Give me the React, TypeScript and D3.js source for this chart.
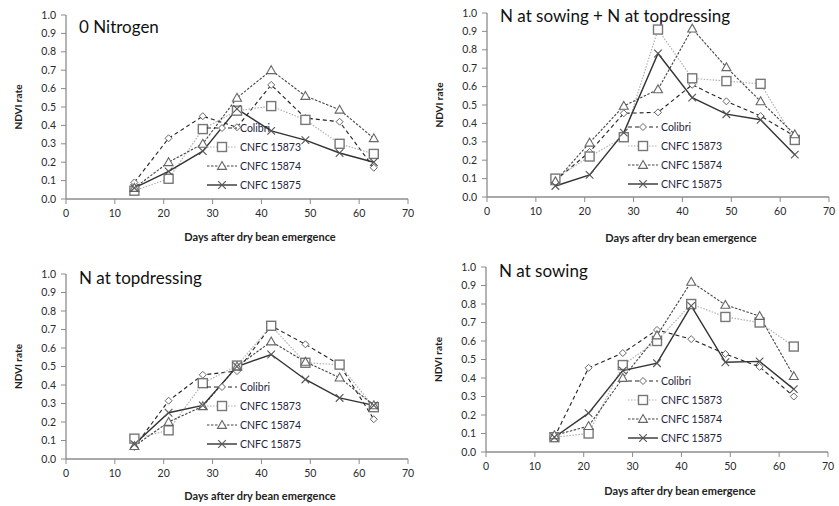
import React from "react";
import * as d3 from "d3";

const days = [14, 21, 28, 35, 42, 49, 56, 63];
const seriesNames = ["Colibri", "CNFC 15873", "CNFC 15874", "CNFC 15875"];
const panelTitles = ["0 Nitrogen", "N at sowing + N at topdressing", "N at topdressing", "N at sowing"];
const xTicks = [0, 10, 20, 30, 40, 50, 60, 70];
const yTicks = [0, 0.1, 0.2, 0.3, 0.4, 0.5, 0.6, 0.7, 0.8, 0.9, 1.0];

// 0 Nitrogen
const p1Colibri = [0.09, 0.33, 0.45, 0.39, 0.62, 0.44, 0.42, 0.17];
const p1C15873 = [0.045, 0.11, 0.38, 0.48, 0.505, 0.43, 0.30, 0.245];
const p1C15874 = [0.06, 0.20, 0.30, 0.55, 0.70, 0.56, 0.485, 0.33];
const p1C15875 = [0.06, 0.15, 0.26, 0.49, 0.37, 0.32, 0.25, 0.20];
// N at sowing + N at topdressing
const p2Colibri = [0.09, 0.245, 0.455, 0.46, 0.61, 0.52, 0.44, 0.33];
const p2C15873 = [0.10, 0.22, 0.325, 0.91, 0.645, 0.63, 0.615, 0.31];
const p2C15874 = [0.085, 0.295, 0.495, 0.585, 0.915, 0.705, 0.52, 0.34];
const p2C15875 = [0.06, 0.12, 0.35, 0.78, 0.54, 0.45, 0.42, 0.23];
// N at topdressing
const p3Colibri = [0.065, 0.315, 0.455, 0.475, 0.72, 0.62, 0.51, 0.215];
const p3C15873 = [0.11, 0.155, 0.41, 0.505, 0.72, 0.52, 0.51, 0.28];
const p3C15874 = [0.07, 0.20, 0.285, 0.50, 0.635, 0.525, 0.44, 0.29];
const p3C15875 = [0.08, 0.25, 0.29, 0.50, 0.565, 0.43, 0.33, 0.29];
// N at sowing
const p4Colibri = [0.08, 0.455, 0.535, 0.66, 0.61, 0.53, 0.46, 0.30];
const p4C15873 = [0.08, 0.10, 0.47, 0.60, 0.80, 0.73, 0.70, 0.57];
const p4C15874 = [0.09, 0.14, 0.40, 0.63, 0.92, 0.795, 0.735, 0.41];
const p4C15875 = [0.08, 0.21, 0.44, 0.48, 0.79, 0.485, 0.49, 0.34];

const panelData = [
  [p1Colibri, p1C15873, p1C15874, p1C15875],
  [p2Colibri, p2C15873, p2C15874, p2C15875],
  [p3Colibri, p3C15873, p3C15874, p3C15875],
  [p4Colibri, p4C15873, p4C15874, p4C15875],
];

const FONT = "Lato, 'Open Sans', sans-serif";

const layouts = [
  { x0: 66, x1: 408, y0: 199, y1: 15, title: [79, 33], legX: 207, legY: 128, xt: 241 },
  { x0: 487, x1: 829, y0: 197, y1: 13, title: [500, 22], legX: 628, legY: 127, xt: 242 },
  { x0: 66, x1: 408, y0: 459, y1: 274, title: [79, 284], legX: 207, legY: 387, xt: 500 },
  { x0: 486, x1: 828, y0: 452, y1: 267, title: [499, 277], legX: 628, legY: 381, xt: 495 },
];

const lineStyles = [
  { stroke: "#222", dash: "4,3", width: 1.1 },
  { stroke: "#b0b0b0", dash: "1.5,1.5", width: 1.2 },
  { stroke: "#444", dash: "2.5,1.5", width: 1.1 },
  { stroke: "#333", dash: null as string | null, width: 1.4 },
];

function Marker({ kind, x, y }: { kind: number; x: number; y: number }) {
  if (kind === 0) {
    const s = 3.5;
    return (
      <path d={`M${x},${y - s}L${x + s},${y}L${x},${y + s}L${x - s},${y}Z`} fill="white" stroke="#666" strokeWidth={1} />
    );
  }
  if (kind === 1) {
    const s = 4.5;
    return <rect x={x - s} y={y - s} width={2 * s} height={2 * s} fill="white" stroke="#777" strokeWidth={1.4} />;
  }
  if (kind === 2) {
    const s = 4.5;
    return (
      <path d={`M${x},${y - s}L${x + s},${y + s * 0.75}L${x - s},${y + s * 0.75}Z`} fill="white" stroke="#666" strokeWidth={1.1} />
    );
  }
  const s = 3.8;
  return (
    <path d={`M${x - s},${y - s}L${x + s},${y + s}M${x - s},${y + s}L${x + s},${y - s}`} stroke="#555" strokeWidth={1.1} fill="none" />
  );
}

function Panel({ idx }: { idx: number }) {
  const L = layouts[idx];
  const xs = d3.scaleLinear().domain([0, 70]).range([L.x0, L.x1]);
  const ys = d3.scaleLinear().domain([0, 1]).range([L.y0, L.y1]);
  const line = d3
    .line<number>()
    .x((_, i) => xs(days[i]))
    .y((v) => ys(v));
  const data = panelData[idx];
  const axisColor = "#8c8c8c";
  return (
    <g>
      <line x1={L.x0} x2={L.x0} y1={ys(1)} y2={ys(0)} stroke={axisColor} strokeWidth={1.3} />
      <line x1={L.x0} x2={L.x1} y1={ys(0)} y2={ys(0)} stroke={axisColor} strokeWidth={1.3} />
      {yTicks.map((t) => (
        <g key={"y" + t}>
          <line x1={L.x0 - 5} x2={L.x0} y1={ys(t)} y2={ys(t)} stroke={axisColor} strokeWidth={1} />
          <text x={L.x0 - 10} y={ys(t) + 3.5} textAnchor="end" fontSize={10.5} fill="#2a2a2a" fontFamily={FONT}>
            {t.toFixed(1)}
          </text>
        </g>
      ))}
      {xTicks.map((t) => (
        <g key={"x" + t}>
          <line x1={xs(t)} x2={xs(t)} y1={ys(0)} y2={ys(0) + 5} stroke={axisColor} strokeWidth={1} />
          <text x={xs(t)} y={ys(0) + 18} textAnchor="middle" fontSize={10.5} fill="#2a2a2a" fontFamily={FONT}>
            {t}
          </text>
        </g>
      ))}
      <text
        transform={`translate(${L.x0 - 44},${(ys(0) + ys(1)) / 2}) rotate(-90)`}
        textAnchor="middle"
        fontSize={10}
        fontWeight="bold"
        fill="#222"
        fontFamily={FONT}
      >
        NDVI rate
      </text>
      <text x={(L.x0 + L.x1) / 2 + 23} y={L.xt} textAnchor="middle" fontSize={11} fontWeight="bold" fill="#222" fontFamily={FONT}>
        Days after dry bean emergence
      </text>
      <text x={L.title[0]} y={L.title[1]} fontSize={17} fill="#111" fontFamily={FONT}>
        {panelTitles[idx]}
      </text>
      {data.map((vals, si) => (
        <path
          key={"l" + si}
          d={line(vals) || ""}
          fill="none"
          stroke={lineStyles[si].stroke}
          strokeWidth={lineStyles[si].width}
          strokeDasharray={lineStyles[si].dash || undefined}
        />
      ))}
      {data.map((vals, si) => (
        <g key={"m" + si}>
          {vals.map((v, i) => (
            <Marker key={i} kind={si} x={xs(days[i])} y={ys(v)} />
          ))}
        </g>
      ))}
      {seriesNames.map((name, si) => {
        const ly = L.legY + si * 19;
        return (
          <g key={"lg" + si}>
            <line
              x1={L.legX}
              x2={L.legX + 30}
              y1={ly}
              y2={ly}
              stroke={lineStyles[si].stroke}
              strokeWidth={lineStyles[si].width}
              strokeDasharray={lineStyles[si].dash || undefined}
            />
            <Marker kind={si} x={L.legX + 15} y={ly} />
            <text x={L.legX + 33} y={ly + 4} fontSize={10.5} fill="#1f2540" fontFamily={FONT}>
              {name}
            </text>
          </g>
        );
      })}
    </g>
  );
}

export default function App() {
  return (
    <svg width={839} height={506} style={{ position: "absolute", left: 0, top: 0, background: "white" }}>
      <rect width={839} height={506} fill="white" />
      {[0, 1, 2, 3].map((i) => (
        <Panel key={i} idx={i} />
      ))}
    </svg>
  );
}
